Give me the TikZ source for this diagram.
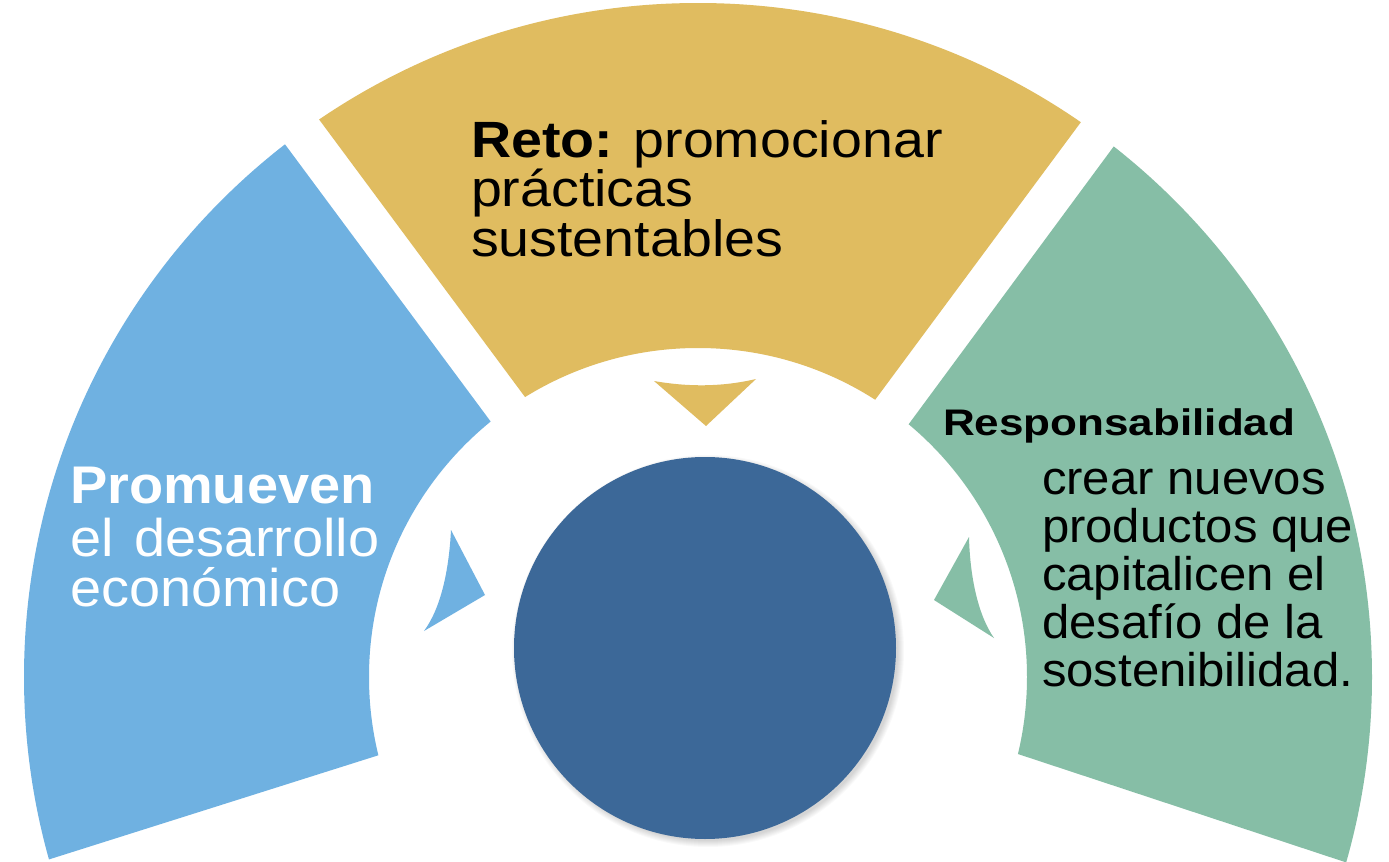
\documentclass[tikz,border=0pt]{standalone}
\usepackage{fontspec}
\setmainfont{Liberation Sans}
\newfontfamily\fGold{Liberation Sans}[FakeStretch=1.09]
\newfontfamily\fBlue{Liberation Sans}[FakeStretch=1.055]
\newfontfamily\fGreenB{Liberation Sans}[FakeStretch=1.19]
\newfontfamily\fGreen{Liberation Sans}[FakeStretch=1.04]
\usetikzlibrary{calc}
\definecolor{cGold}{HTML}{E0BC60}
\definecolor{cBlue}{HTML}{6FB1E1}
\definecolor{cGreen}{HTML}{86BEA6}
\definecolor{cCore}{HTML}{3C6898}
\begin{document}
\begin{tikzpicture}[x=0.5pt,y=-0.5pt,
  lbl/.style={anchor=base west, inner sep=0pt, outer sep=0pt},
  goldtxt/.style={lbl, text=black, font=\fGold\fontsize{25.5pt}{25.5pt}\selectfont},
  bluetxt/.style={lbl, text=white, font=\fBlue\fontsize{26.5pt}{26.5pt}\selectfont},
  greenhead/.style={lbl, text=black, font=\fGreenB\bfseries\fontsize{18.5pt}{18.5pt}\selectfont},
  greentxt/.style={lbl, text=black, font=\fGreen\fontsize{23.6pt}{23.6pt}\selectfont},
  ring/.style={even odd rule}]
\useasboundingbox (0,0) rectangle (1389,862);
\fill[white] (0,0) rectangle (1389,862);
\coordinate (O) at (698,677);
% ---- gold sector
\coordinate (gL1) at (318,118); \coordinate (gL2) at (525,397);
\coordinate (gR1) at (1081,122); \coordinate (gR2) at (875,400);
\coordinate (gA) at (intersection of gL1--gL2 and gR1--gR2);
\begin{scope}
  \clip (gA) -- ($(gL2)!3!(gL1)$) -- ($(gR2)!3!(gR1)$) -- cycle;
  \fill[cGold, ring] (O) circle[radius=674] (O) circle[radius=329];
\end{scope}
% ---- blue sector
\coordinate (bT1) at (284,143); \coordinate (bT2) at (491,422);
\coordinate (bB1) at (47,860); \coordinate (bB2) at (379,755);
\coordinate (bA) at (intersection of bT1--bT2 and bB1--bB2);
\begin{scope}
  \clip (bA) -- ($(bT2)!3!(bT1)$) -- (-1200,-415) -- (-1200,1070) -- ($(bB2)!3!(bB1)$) -- cycle;
  \fill[cBlue, ring] (O) circle[radius=674] (O) circle[radius=329];
\end{scope}
% ---- green sector
\coordinate (eT1) at (1114,146); \coordinate (eT2) at (908,425);
\coordinate (eB1) at (1348,863); \coordinate (eB2) at (1015,753);
\coordinate (eA) at (intersection of eT1--eT2 and eB1--eB2);
\begin{scope}
  \clip (eA) -- ($(eT2)!3!(eT1)$) -- (2600,-415) -- (2600,1090) -- ($(eB2)!3!(eB1)$) -- cycle;
  \fill[cGreen, ring] (O) circle[radius=674] (O) circle[radius=329];
\end{scope}
% ---- arrow heads
\fill[cGold] (654,381) .. controls (688,387) and (722,387) .. (756,379) -- (706,426) -- cycle;
\fill[cBlue] (451,530) -- (485,595) -- (424,631) .. controls (441,608) and (449,570) .. (451,530) -- cycle;
\fill[cGreen] (969,537) -- (934,600) -- (994,638) .. controls (978,615) and (970,577) .. (969,537) -- cycle;
% ---- central circle with soft shadow
\foreach \i in {1,...,7}
  \fill[black, opacity=0.025] (708,651) circle[radius=189+\i];
\node[circle, fill=cCore, minimum size=191pt, inner sep=0pt] (core) at (705,648) {};
% ---- texts
\node[goldtxt] (gold1) at (471,157) {\textbf{Reto:} promocionar};
\node[goldtxt] (gold2) at (471,206) {prácticas};
\node[goldtxt] (gold3) at (471,256) {sustentables};
\node[bluetxt] (blue1) at (70,503) {\textbf{Promueven}};
\node[bluetxt] (blue2) at (70,556) {el \hspace{2.5pt}desarrollo};
\node[bluetxt] (blue3) at (70,606) {económico};
\node[greenhead] (green0) at (943,435) {Responsabilidad};
\node[greentxt] (green1) at (1042,494) {crear nuevos};
\node[greentxt] (green2) at (1042,542) {productos que};
\node[greentxt] (green3) at (1042,590) {capitalicen el};
\node[greentxt] (green4) at (1042,638) {desafío de la};
\node[greentxt] (green5) at (1042,686) {sostenibilidad.};
\end{tikzpicture}
\end{document}
